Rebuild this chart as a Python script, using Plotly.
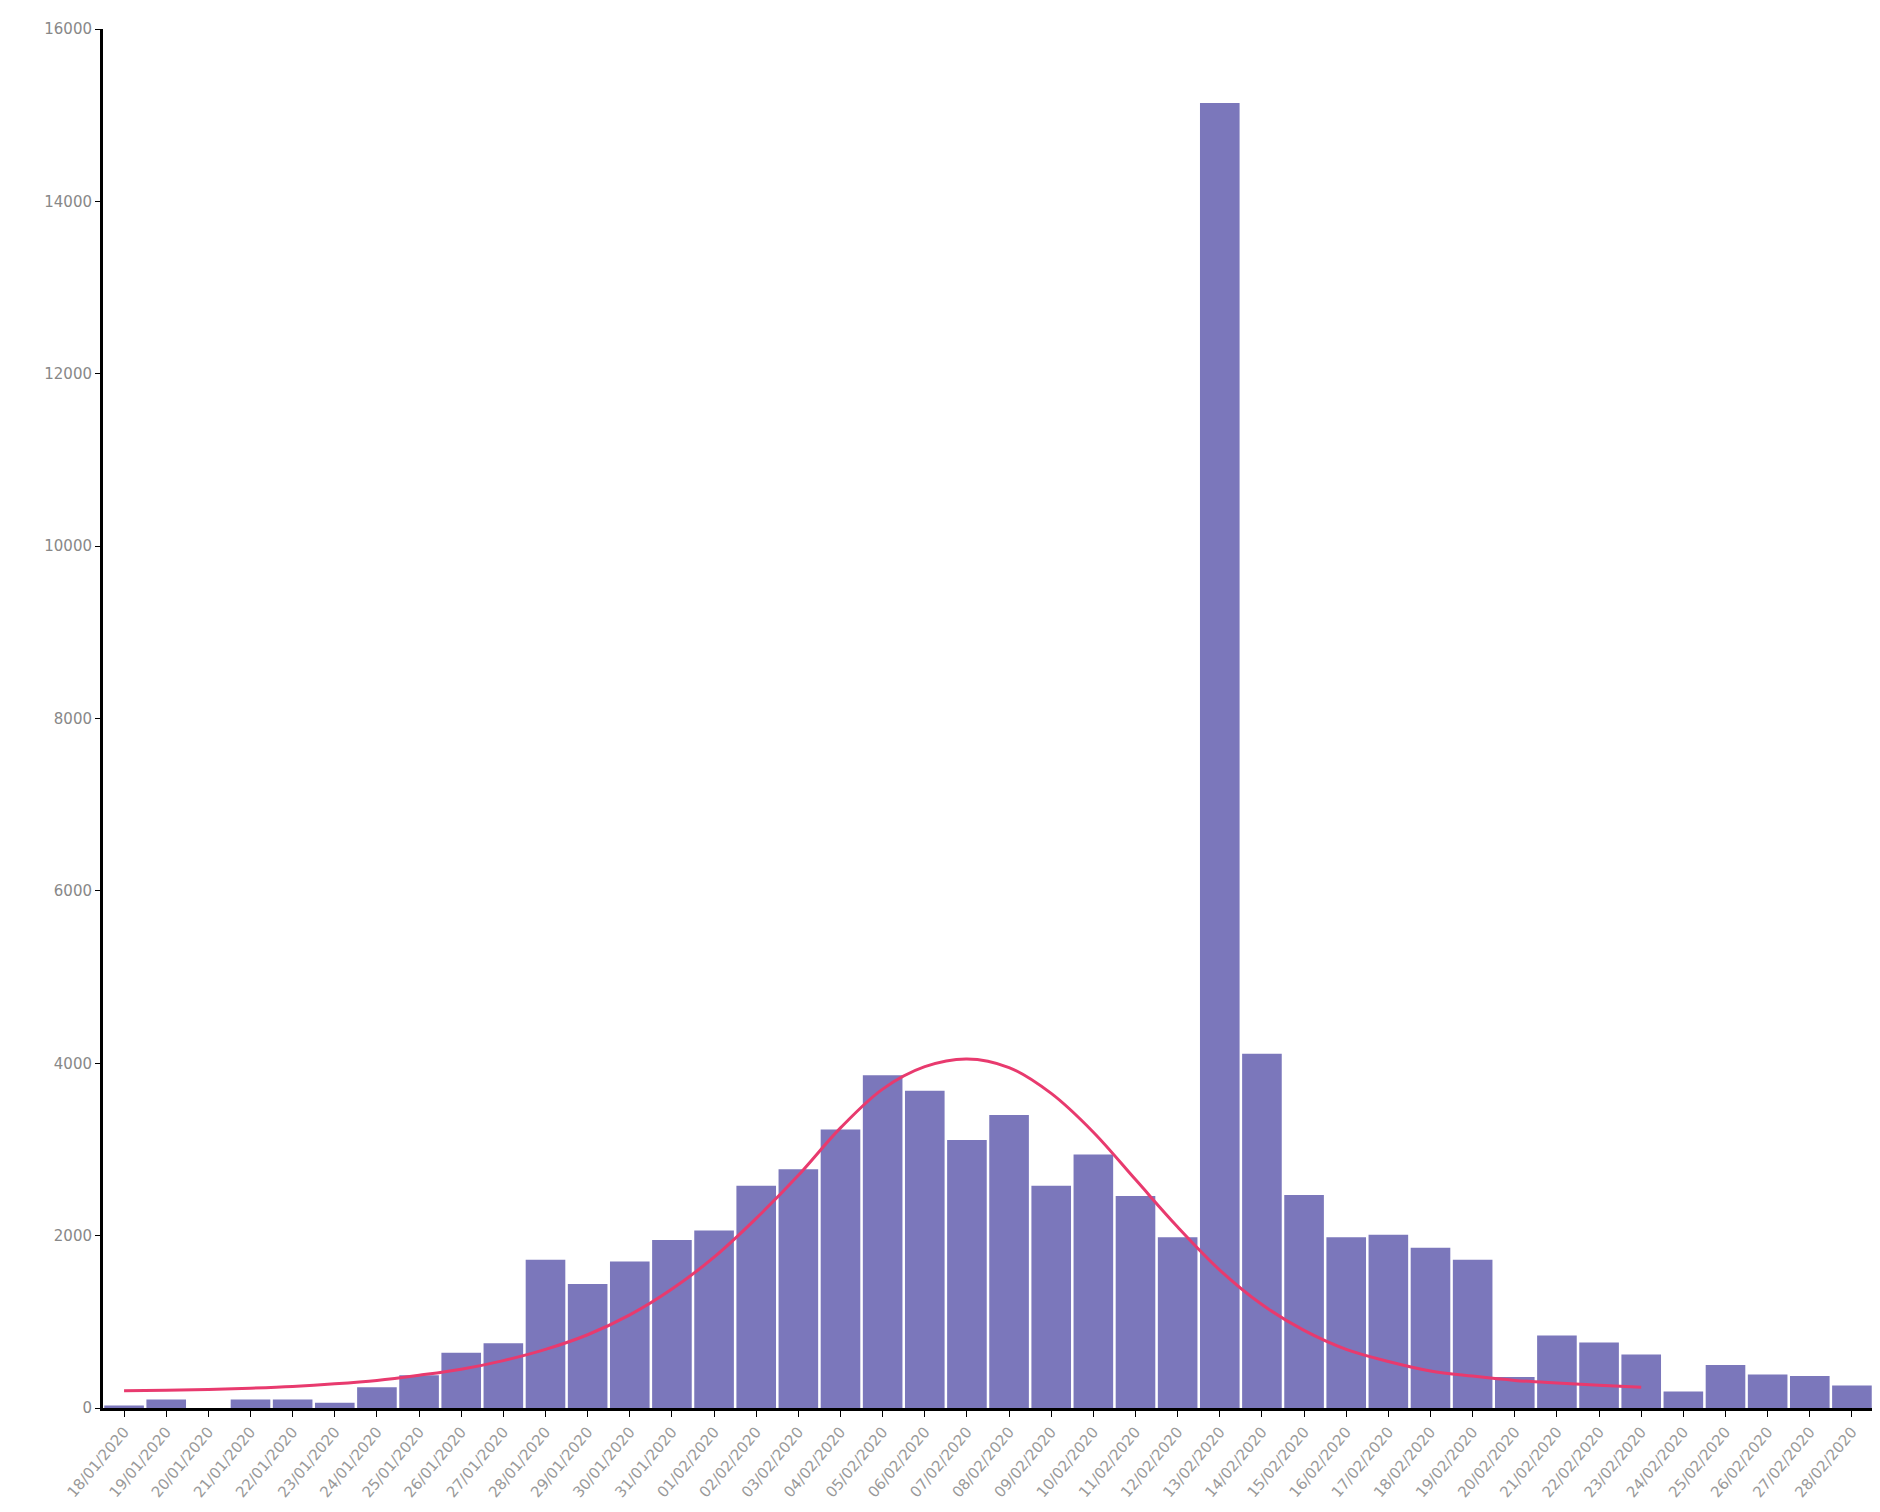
import plotly.graph_objects as go

dates = [
    "18/01/2020", "19/01/2020", "20/01/2020", "21/01/2020", "22/01/2020", "23/01/2020",
    "24/01/2020", "25/01/2020", "26/01/2020", "27/01/2020", "28/01/2020", "29/01/2020",
    "30/01/2020", "31/01/2020", "01/02/2020", "02/02/2020", "03/02/2020", "04/02/2020",
    "05/02/2020", "06/02/2020", "07/02/2020", "08/02/2020", "09/02/2020", "10/02/2020",
    "11/02/2020", "12/02/2020", "13/02/2020", "14/02/2020", "15/02/2020", "16/02/2020",
    "17/02/2020", "18/02/2020", "19/02/2020", "20/02/2020", "21/02/2020", "22/02/2020",
    "23/02/2020", "24/02/2020", "25/02/2020", "26/02/2020", "27/02/2020", "28/02/2020",
]
new_cases = [
    30, 100, 0, 100, 100, 60, 240, 380, 640, 750, 1720, 1440,
    1700, 1950, 2060, 2580, 2770, 3230, 3860, 3680, 3110, 3400, 2580, 2940,
    2460, 1980, 15140, 4110, 2470, 1980, 2010, 1860, 1720, 360, 840, 760,
    620, 190, 500, 390, 370, 260,
]
# fitted curve (ends at 23/02)
fit_dates = dates[:37]
fit_values = [
    200, 205, 215, 230, 250, 280, 320, 380, 450, 550, 680, 850,
    1080, 1380, 1750, 2200, 2700, 3250, 3700, 3960, 4050, 3950, 3650, 3200,
    2650, 2100, 1600, 1200, 900, 680, 540, 430, 370, 320, 290, 265, 240,
]
y_ticks = [0, 2000, 4000, 6000, 8000, 10000, 12000, 14000, 16000]

fig = go.Figure()
fig.add_trace(go.Bar(
    x=dates, y=new_cases,
    marker=dict(color="#7b77bb", line=dict(width=0)),
    showlegend=False,
))
fig.add_trace(go.Scatter(
    x=fit_dates, y=fit_values, mode="lines",
    line=dict(color="#e83a6e", width=3, shape="spline"),
    showlegend=False,
))

fig.update_layout(
    width=1880, height=1512,
    margin=dict(l=95, r=15, t=18, b=112),
    plot_bgcolor="white", paper_bgcolor="white",
    bargap=0.06,
    font=dict(family="DejaVu Sans", color="#888888", size=14),
    xaxis=dict(
        type="category", categoryorder="array", categoryarray=dates,
        showgrid=False, zeroline=False,
        showline=True, linecolor="black", linewidth=3,
        ticks="outside", tickcolor="black", ticklen=6,
        tickangle=-50, tickfont=dict(size=15, color="#999999"),
    ),
    yaxis=dict(
        range=[0, 16000], tickvals=y_ticks, ticktext=[str(v) for v in y_ticks],
        showgrid=False, zeroline=False,
        showline=True, linecolor="black", linewidth=3,
        ticks="outside", tickcolor="black", ticklen=5,
        tickfont=dict(size=15, color="#888888"),
    ),
)

fig.write_html("out.html")
